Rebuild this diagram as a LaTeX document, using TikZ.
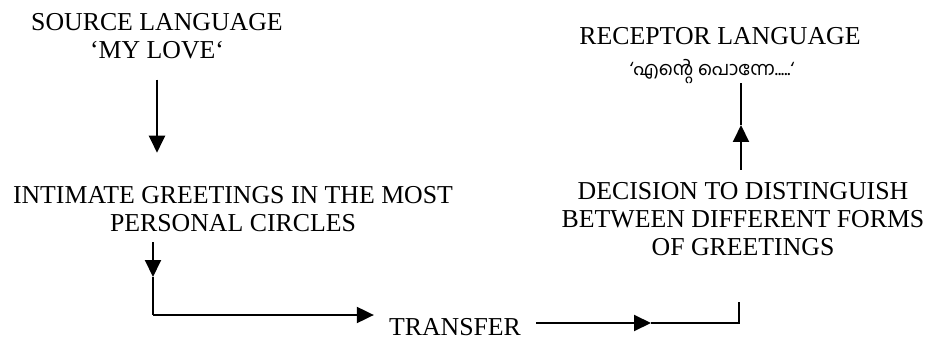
\documentclass[tikz,border=0pt]{standalone}
\usepackage{fontspec}
\setmainfont{Liberation Serif}
\newfontfamily\malfont[Script=Malayalam]{Hind Kochi}
\usetikzlibrary{arrows.meta}
\begin{document}
\begin{tikzpicture}[x=1pt,y=-1pt,
  caption/.style={inner sep=0pt, align=center, font=\fontsize{25.8}{28}\selectfont},
  conn/.style={line width=2pt},
  tipped/.style={-{Triangle[length=17pt,width=16pt]}}]
\useasboundingbox (0,0) rectangle (928,339);

% text blocks (base anchor = baseline of the last line)
\node[caption, anchor=base] (src) at (157,59) {SOURCE LANGUAGE\\‘MY LOVE‘};
\node[caption, anchor=base] (intim) at (233,231) {INTIMATE GREETINGS IN THE MOST\\PERSONAL CIRCLES};
\node[caption, anchor=base, inner xsep=15pt] (tr) at (455,335) {TRANSFER};
\node[caption, anchor=base] (rec) at (720,45) {RECEPTOR LANGUAGE};
\node[inner sep=0pt, anchor=base, font=\fontsize{19}{22}\selectfont] (mal) at (712,76) {\malfont ‘എന്റെ പൊന്നേ.....‘};
\node[caption, anchor=base] (dec) at (743,255) {DECISION TO DISTINGUISH\\BETWEEN DIFFERENT FORMS\\OF GREETINGS};

% bend and mid-arrow points
\coordinate (m1) at (153,277);
\coordinate (k1) at (153,315);
\coordinate (m2) at (651,323);
\coordinate (k2) at (739,323);
\coordinate (e2) at (739,302);
\coordinate (m3) at (741,125);
\coordinate (e3) at (741,83);

% connectors
\draw[conn,tipped,shorten <=20pt,shorten >=33pt] (src.south) -- (src.south |- intim.north);
\draw[conn,tipped,shorten <=11pt] (intim.south -| m1) -- (m1);
\draw[conn] (m1) -- (k1);
\draw[conn,tipped] (k1) -- (k1 -| tr.west);
\draw[conn,tipped] (tr.east |- m2) -- (m2);
\draw[conn] (m2) -- (k2) -- (e2);
\draw[conn,tipped,shorten <=12pt] (dec.north -| m3) -- (m3);
\draw[conn] (m3) -- (e3);
\end{tikzpicture}
\end{document}
